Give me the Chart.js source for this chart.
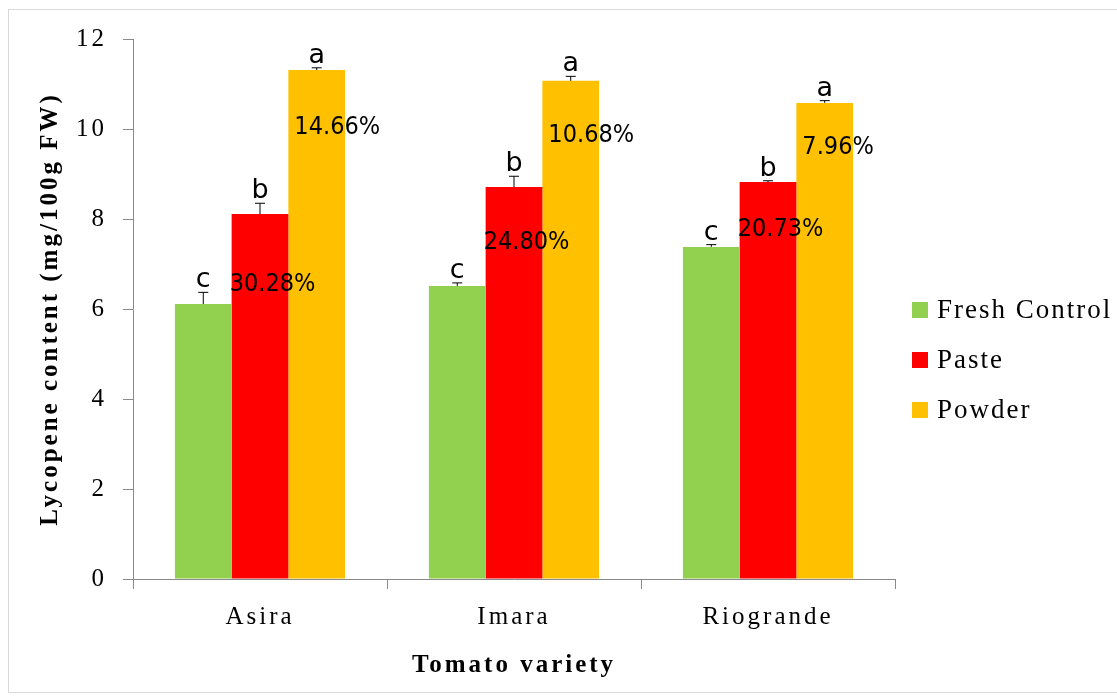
<!DOCTYPE html>
<html>
<head>
<meta charset="utf-8">
<script src="https://cdn.jsdelivr.net/npm/chart.js@4"></script>
<style>
  body { margin: 0; background: #fff; }
  #wrap { position: relative; width: 1117px; height: 697px; overflow: hidden; }
  #frame { position: absolute; left: 8px; top: 9px; width: 1200px; height: 682px; border: 1px solid #d9d9d9; }
  canvas { position: absolute; left: 0; top: 0; }
</style>
</head>
<body>
<div id="wrap">
  <div id="frame"></div>
  <canvas id="myChart" width="1117" height="697"></canvas>
</div>
<script>
const varieties = ['Asira', 'Imara', 'Riogrande'];
const freshControl = [6.11, 6.51, 7.38];
const paste = [8.11, 8.71, 8.82];
const powder = [11.31, 11.07, 10.58];
const freshErr = [0.26, 0.07, 0.05];
const pasteErr = [0.24, 0.24, 0.03];
const powderErr = [0.05, 0.1, 0.05];
const freshLetters = ['c', 'c', 'c'];
const pasteLetters = ['b', 'b', 'b'];
const powderLetters = ['a', 'a', 'a'];
const pastePct = ['30.28%', '24.80%', '20.73%'];
const powderPct = ['14.66%', '10.68%', '7.96%'];

const ctx = document.getElementById('myChart');

// spaced-out serif text like the original
const spacing = {
  id: 'spacing',
  beforeInit(chart) { chart.ctx.letterSpacing = '3px'; },
  beforeDraw(chart) { chart.ctx.letterSpacing = '3px'; }
};

// error bars with caps + significance letters + percent labels
const annotate = {
  id: 'annotate',
  afterDatasetsDraw(chart) {
    const c = chart.ctx;
    const errs = [freshErr, pasteErr, powderErr];
    const letters = [freshLetters, pasteLetters, powderLetters];
    const pcts = [null, pastePct, powderPct];
    const pctDrop = [null, [70, 55, 47], [57, 55, 45]];
    const yScale = chart.scales.y;
    c.save();
    c.letterSpacing = '0px';
    chart.data.datasets.forEach((ds, i) => {
      const meta = chart.getDatasetMeta(i);
      meta.data.forEach((bar, j) => {
        const top = yScale.getPixelForValue(ds.data[j] + errs[i][j]);
        c.strokeStyle = '#000';
        c.lineWidth = 1;
        c.beginPath();
        c.moveTo(bar.x, bar.y);
        c.lineTo(bar.x, top);
        c.moveTo(bar.x - 5, top);
        c.lineTo(bar.x + 5, top);
        c.stroke();
        c.fillStyle = '#000';
        c.font = '27px "DejaVu Sans"';
        c.textAlign = 'center';
        c.textBaseline = 'alphabetic';
        c.fillText(letters[i][j], bar.x, top - 5);
        if (pcts[i]) {
          c.save();
          c.font = '25px "DejaVu Sans"';
          c.textAlign = 'left';
          c.textBaseline = 'middle';
          const x = bar.x - bar.width / 2 - 2 + (i === 2 ? 8 : 0);
          c.translate(x, bar.y + pctDrop[i][j]);
          c.scale(0.9, 1);
          c.fillText(pcts[i][j], 0, 0);
          c.restore();
        }
      });
    });
    c.restore();
  }
};

// legend drawn by hand in the reserved right margin
const sideLegend = {
  id: 'sideLegend',
  afterDraw(chart) {
    const c = chart.ctx;
    const x = chart.chartArea.right + 17;
    const y0 = 310;
    c.save();
    c.letterSpacing = '2px';
    c.font = '27px "Liberation Serif"';
    c.textAlign = 'left';
    c.textBaseline = 'middle';
    chart.data.datasets.forEach((ds, i) => {
      const y = y0 + i * 50;
      c.fillStyle = ds.backgroundColor;
      c.fillRect(x, y - 8, 16, 16);
      c.fillStyle = '#000';
      c.fillText(ds.label, x + 25, y + 1);
    });
    c.restore();
  }
};

new Chart(ctx, {
  type: 'bar',
  data: {
    labels: varieties,
    datasets: [
      { label: 'Fresh Control', data: freshControl, backgroundColor: '#92d050' },
      { label: 'Paste', data: paste, backgroundColor: '#ff0000' },
      { label: 'Powder', data: powder, backgroundColor: '#ffc000' }
    ]
  },
  options: {
    responsive: false,
    animation: false,
    datasets: { bar: { barPercentage: 1, categoryPercentage: 0.67 } },
    layout: { padding: { top: 39, left: 36, right: 222, bottom: 12 } },
    scales: {
      x: {
        grid: { drawOnChartArea: false, drawTicks: true, tickLength: 10, color: '#898989', offset: true },
        border: { color: '#898989' },
        ticks: { color: '#000', font: { family: 'Liberation Serif', size: 25 }, padding: 13 },
        title: { display: true, text: 'Tomato variety', color: '#000', font: { family: 'Liberation Serif', size: 25, weight: 'bold' }, padding: { top: 6 } }
      },
      y: {
        min: 0, max: 12,
        grid: { drawOnChartArea: false, tickLength: 10, color: '#898989' },
        border: { color: '#898989' },
        ticks: { stepSize: 2, color: '#000', font: { family: 'Liberation Serif', size: 25 }, padding: 16 },
        title: { display: true, text: 'Lycopene content (mg/100g FW)', color: '#000', font: { family: 'Liberation Serif', size: 25, weight: 'bold' }, padding: { top: 0, bottom: 0 } }
      }
    },
    plugins: {
      legend: { display: false },
      tooltip: { enabled: false }
    }
  },
  plugins: [spacing, annotate, sideLegend]
});
</script>
</body>
</html>
